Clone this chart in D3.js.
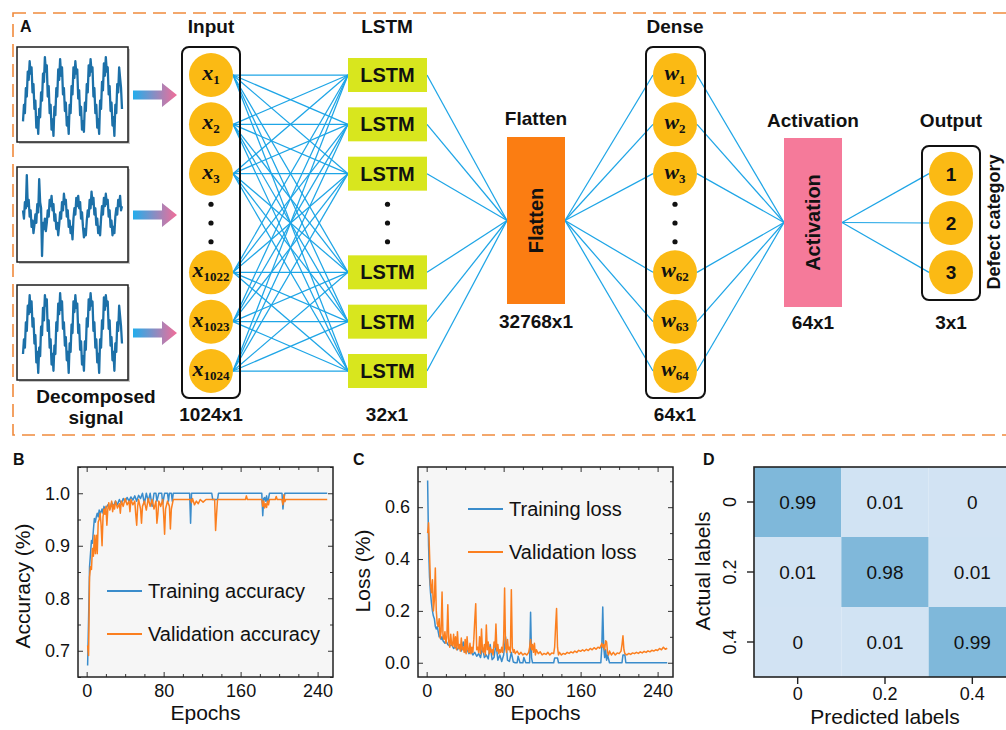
<!DOCTYPE html>
<html><head><meta charset="utf-8">
<script src="https://cdn.jsdelivr.net/npm/d3@7"></script>
<style>
body{margin:0;background:#fff;}
svg{display:block;font-family:"Liberation Sans",Arial,sans-serif;}
</style></head><body>
<svg id="fig" width="1006" height="730"></svg>
<script>
// ---------------- data ----------------
const inputNodes = [["x","1"],["x","2"],["x","3"],["x","1022"],["x","1023"],["x","1024"]];
const lstmNodes = ["LSTM","LSTM","LSTM","LSTM","LSTM","LSTM"];
const denseNodes = [["w","1"],["w","2"],["w","3"],["w","62"],["w","63"],["w","64"]];
const outputNodes = ["1","2","3"];
const layerTitles = ["Input","LSTM","Flatten","Dense","Activation","Output"];
const layerShapes = ["1024x1","32x1","32768x1","64x1","64x1","3x1"];

const signalA = [-0.6,-0.2,-0.4,0.2,0.0,0.6,0.4,0.85,0.55,0.7,0.1,0.3,-0.3,-0.1,-0.75,
 -0.5,-0.9,-0.3,-0.5,0.1,-0.1,0.55,0.35,0.95,0.6,0.75,0.0,0.25,-0.4,-0.2,
 -0.8,-0.55,-0.95,-0.25,-0.45,0.2,0.0,0.65,0.4,0.9,0.5,0.7,0.05,0.2,-0.35,
 -0.15,-0.7,-0.5,-0.9,-0.2,-0.4,0.25,0.05,0.7,0.45,0.85,0.55,0.65,-0.05,0.15,
 -0.45,-0.25,-0.8,-0.6,-0.85,-0.15,-0.35,0.3,0.1,0.75,0.5,0.9,0.6,0.7,0.0,
 0.2,-0.4,-0.2,-0.75,-0.55,-0.9,-0.1,-0.3,0.35,0.15,0.8,0.5,0.95,0.6,0.7,
 0.05,0.25,-0.35,-0.15,-0.7,-0.5,-0.95,-0.2,-0.4,0.3,0.1,0.7,0.45,0.2,-0.3];
const signalB = [0.1,-0.1,0.3,0.15,0.95,0.2,0.35,-0.05,0.1,-0.3,-0.15,-0.45,-0.25,0.0,-0.2,
 0.25,0.05,0.85,0.3,0.15,-1.0,-0.2,-0.35,-0.1,-0.4,-0.2,0.1,-0.05,0.35,0.2,
 0.45,0.1,0.25,-0.15,0.0,-0.35,-0.2,-0.5,-0.25,0.05,-0.1,0.3,0.1,0.5,0.25,
 0.35,-0.05,0.1,-0.3,-0.15,-0.45,-0.3,-0.6,-0.1,0.15,0.0,0.4,0.2,0.45,0.15,
 0.3,-0.1,0.05,-0.3,-0.55,-0.35,-0.5,-0.15,0.1,-0.05,0.35,0.15,0.55,0.25,0.4,
 0.0,0.15,-0.25,-0.1,-0.45,-0.3,-0.5,-0.1,0.2,0.0,0.4,0.2,0.5,0.25,0.35,
 -0.05,0.1,-0.3,-0.15,-0.5,-0.3,-0.45,-0.05,0.15,0.0,0.35,0.2,0.45,0.1,0.2];
const signalC = [-0.5,-0.15,-0.35,0.25,0.05,0.65,0.45,0.9,0.5,0.75,0.15,0.35,-0.25,-0.05,-0.7,
 -0.45,-0.95,-0.35,-0.55,0.15,-0.05,0.6,0.3,0.9,0.65,0.8,0.05,0.3,-0.35,-0.15,
 -0.75,-0.5,-0.9,-0.3,-0.5,0.25,0.05,0.7,0.45,0.95,0.55,0.75,0.1,0.25,-0.3,
 -0.1,-0.65,-0.45,-0.95,-0.25,-0.45,0.2,0.0,0.75,0.5,0.9,0.6,0.7,0.0,0.2,
 -0.4,-0.2,-0.75,-0.55,-0.9,-0.2,-0.4,0.35,0.15,0.8,0.55,0.95,0.65,0.75,0.05,
 0.25,-0.35,-0.15,-0.7,-0.5,-0.95,-0.15,-0.35,0.3,0.1,0.85,0.55,0.9,0.65,0.75,
 0.1,0.3,-0.3,-0.1,-0.65,-0.45,-0.9,-0.25,-0.45,0.25,0.05,0.65,0.4,0.15,-0.25];

const trainAcc = [[1,0.672],[2,0.76],[3,0.86],[4,0.885],[5,0.91],[6,0.905],[7,0.93],[8,0.952],[9,0.945],[10,0.955],
 [11,0.962],[12,0.955],[13,0.968],[14,0.96],[15,0.965],[16,0.97],[17,0.962],[18,0.975],[19,0.968],[20,0.972],
 [22,0.978],[24,0.97],[26,0.982],[28,0.975],[30,0.985],[32,0.978],[34,0.988],[36,0.98],[38,0.99],[40,0.984],
 [42,0.992],[44,0.985],[46,0.993],[48,0.987],[50,0.995],[52,0.985],[54,0.996],[56,0.99],[58,1.0],[60,0.98],
 [62,1.0],[64,0.985],[66,1.0],[68,0.975],[70,1.0],[72,1.0],[73,0.985],[75,1.0],[78,1.0],[79,0.98],[81,1.0],
 [84,1.0],[85,0.985],[86,1.0],[88,1.0],[89,0.985],[90,1.0],[107,1.0],[108,0.943],[109,1.0],[130,1.0],[131,0.988],
 [136,0.988],[137,1.0],[182,1.0],[183,0.957],[184,0.99],[185,0.992],[186,0.985],[187,0.995],[188,0.98],[190,1.0],
 [203,1.0],[204,0.97],[205,0.99],[206,1.0],[250,1.0]];
const valAcc = [[1,0.71],[2,0.691],[3,0.84],[4,0.86],[5,0.855],[6,0.895],[7,0.88],[8,0.92],[9,0.885],[10,0.92],
 [11,0.885],[12,0.945],[13,0.95],[14,0.962],[15,0.94],[16,0.90],[17,0.955],[18,0.97],[19,0.96],[20,0.975],
 [21,0.939],[22,0.97],[23,0.982],[24,0.968],[25,0.975],[26,0.985],[27,0.965],[28,0.978],[29,0.97],[30,0.985],
 [32,0.972],[34,0.98],[35,0.962],[36,0.985],[38,0.975],[40,0.99],[42,0.978],[44,0.985],[45,0.965],[46,0.988],
 [48,0.978],[50,0.985],[51,0.96],[52,0.939],[53,0.975],[54,0.988],[56,0.97],[57,0.943],[58,0.975],[60,0.985],
 [62,0.968],[64,0.99],[66,0.975],[68,0.988],[70,0.97],[72,0.985],[73,0.943],[74,0.96],[75,0.985],[77,0.975],
 [79,0.988],[80,0.96],[81,0.922],[82,0.97],[84,0.985],[86,0.975],[87,0.932],[88,0.97],[90,0.988],[108,0.988],
 [109,0.982],[110,0.99],[112,0.978],[114,0.985],[116,0.98],[118,0.988],[121,0.983],[124,0.988],[133,0.988],
 [134,0.929],[135,0.96],[136,0.988],[165,0.988],[166,0.995],[167,0.988],[182,0.988],[183,0.975],[184,0.985],
 [185,0.972],[186,0.98],[187,0.973],[188,0.985],[189,0.978],[190,0.988],[196,0.988],[197,0.994],[198,0.988],
 [203,0.988],[204,0.978],[205,0.997],[206,0.984],[207,0.988],[250,0.988]];

const trainLoss = [[1,0.703],[2,0.45],[3,0.33],[4,0.27],[5,0.23],[6,0.2],[7,0.18],[8,0.17],[9,0.14],[10,0.13],
 [11,0.14],[12,0.12],[13,0.1],[14,0.105],[15,0.09],[16,0.1],[17,0.085],[18,0.08],[19,0.075],[20,0.085],
 [22,0.07],[24,0.065],[26,0.07],[28,0.055],[30,0.06],[32,0.05],[34,0.065],[36,0.045],[38,0.08],[40,0.04],
 [42,0.05],[44,0.035],[46,0.045],[48,0.03],[50,0.04],[52,0.025],[54,0.035],[56,0.02],[58,0.06],[60,0.02],
 [62,0.03],[64,0.015],[66,0.07],[68,0.012],[70,0.02],[72,0.075],[74,0.01],[76,0.03],[78,0.005],[80,0.03],
 [82,0.1],[84,0.01],[86,0.005],[88,0.04],[90,0.003],[92,0.0],[94,0.0],[95,0.025],[97,0.0],[100,0.0],[101,0.02],
 [103,0.0],[107,0.0],[108,0.195],[109,0.02],[110,0.0],[132,0.0],[133,0.018],[136,0.018],[137,0.0],[181,0.0],
 [182,0.06],[183,0.215],[184,0.06],[185,0.02],[186,0.05],[187,0.01],[188,0.03],[190,0.0],[203,0.0],[204,0.03],
 [206,0.03],[207,0.0],[250,0.0]];
const valLoss = [[1,0.5],[2,0.54],[3,0.42],[4,0.3],[5,0.27],[6,0.32],[7,0.2],[8,0.24],[9,0.365],[10,0.2],
 [11,0.15],[12,0.14],[13,0.17],[14,0.095],[15,0.12],[16,0.273],[17,0.1],[18,0.09],[19,0.12],[20,0.075],
 [21,0.1],[22,0.224],[23,0.08],[24,0.06],[25,0.11],[26,0.07],[27,0.065],[28,0.11],[29,0.06],[30,0.1],
 [31,0.05],[32,0.12],[33,0.055],[34,0.07],[35,0.045],[36,0.095],[37,0.05],[38,0.06],[39,0.04],[40,0.09],
 [41,0.035],[42,0.1],[43,0.05],[44,0.04],[45,0.075],[46,0.035],[47,0.06],[48,0.04],[49,0.09],[50,0.165],
 [51,0.228],[52,0.05],[53,0.06],[54,0.04],[55,0.1],[56,0.035],[57,0.13],[58,0.05],[59,0.04],[60,0.07],
 [61,0.03],[62,0.146],[63,0.05],[64,0.08],[65,0.035],[66,0.06],[67,0.04],[68,0.05],[69,0.03],[70,0.08],
 [71,0.06],[72,0.149],[73,0.045],[74,0.07],[75,0.035],[76,0.05],[77,0.04],[78,0.06],[79,0.04],[80,0.09],
 [81,0.288],[82,0.06],[83,0.04],[84,0.09],[85,0.05],[86,0.06],[87,0.04],[88,0.282],[89,0.06],[90,0.04],
 [91,0.05],[92,0.035],[94,0.045],[96,0.032],[98,0.04],[100,0.03],[102,0.036],[104,0.03],[106,0.04],[107,0.06],
 [108,0.09],[109,0.05],[110,0.07],[111,0.04],[112,0.075],[113,0.03],[114,0.05],[116,0.035],[118,0.042],[120,0.03],
 [122,0.036],[124,0.032],[126,0.04],[128,0.03],[130,0.038],[132,0.035],[133,0.06],[134,0.14],[135,0.209],[136,0.06],
 [137,0.03],[138,0.04],[140,0.03],[142,0.036],[144,0.033],[146,0.04],[148,0.036],[150,0.042],[152,0.038],[154,0.045],
 [156,0.04],[158,0.048],[160,0.044],[162,0.05],[164,0.045],[166,0.052],[168,0.047],[170,0.055],[172,0.05],[174,0.058],
 [176,0.052],[178,0.06],[180,0.056],[181,0.065],[182,0.075],[183,0.06],[184,0.07],[185,0.05],[186,0.085],[187,0.08],
 [188,0.04],[189,0.03],[190,0.045],[192,0.03],[194,0.04],[196,0.03],[198,0.038],[200,0.035],[202,0.045],[203,0.07],
 [204,0.104],[205,0.05],[206,0.035],[208,0.03],[210,0.036],[212,0.032],[214,0.038],[216,0.035],[218,0.04],[220,0.036],
 [222,0.042],[224,0.038],[226,0.044],[228,0.04],[230,0.046],[232,0.042],[234,0.048],[236,0.045],[238,0.05],[240,0.047],
 [242,0.055],[244,0.05],[246,0.06],[248,0.052],[250,0.056]];

const epochTicks = [0, 80, 160, 240];
const epochMinor = [20, 40, 60, 100, 120, 140, 180, 200, 220];
const accTicks = [0.7, 0.8, 0.9, 1.0];
const accMinor = [0.65, 0.75, 0.85, 0.95, 1.05];
const lossTicks = [0.0, 0.2, 0.4, 0.6];
const lossMinor = [0.1, 0.3, 0.5, 0.7];

const confLabels = ["0", "0.2", "0.4"];
const confusion = [[0.99, 0.01, 0], [0.01, 0.98, 0.01], [0, 0.01, 0.99]];

// ---------------- drawing ----------------
const svg = d3.select("#fig");
const ink = "#111";
const linkColor = "#1ea5e6";
const nodeFill = "#fbba14";

const defs = svg.append("defs");
const grad = defs.append("linearGradient").attr("id", "arrowGrad");
grad.append("stop").attr("offset", "0%").attr("stop-color", "#22adec");
grad.append("stop").attr("offset", "100%").attr("stop-color", "#f36c98");

// dashed frame of panel A
svg.append("rect").attr("x", 13).attr("y", 13).attr("width", 1020).attr("height", 422)
  .attr("fill", "none").attr("stroke", "#f08a3c").attr("stroke-width", 1.6)
  .attr("stroke-dasharray", "13,7");

function panelLetter(t, x, y) {
  svg.append("text").attr("x", x).attr("y", y).text(t)
    .attr("font-weight", "bold").attr("font-size", 16).attr("fill", ink);
}
panelLetter("A", 20, 32);
panelLetter("B", 13, 465);
panelLetter("C", 353, 465);
panelLetter("D", 703, 465);

// ---- decomposed signal thumbnails ----
const thumbs = [
  { sig: signalA, y0: 47, lo: 138, hi: 55 },
  { sig: signalB, y0: 167, lo: 256, hi: 173 },
  { sig: signalC, y0: 285, lo: 375, hi: 291 }
];
thumbs.forEach(t => {
  const g = svg.append("g");
  g.append("rect").attr("x", 19).attr("y", t.y0 + 2).attr("width", 111).attr("height", 95).attr("fill", "#c9c9c9");
  g.append("rect").attr("x", 17).attr("y", t.y0).attr("width", 111).attr("height", 95)
    .attr("fill", "#fff").attr("stroke", "#1d1d1d").attr("stroke-width", 1.5);
  const sx = d3.scaleLinear().domain([0, t.sig.length - 1]).range([23, 122]);
  const sy = d3.scaleLinear().domain([-1, 1]).range([t.lo, t.hi]);
  g.append("path").attr("d", d3.line().x((d, i) => sx(i)).y(d => sy(d))(t.sig))
    .attr("fill", "none").attr("stroke", "#1c70a8").attr("stroke-width", 2.3).attr("stroke-linejoin", "round");
  // gradient arrow
  const cy = t.y0 + 48;
  g.append("path")
    .attr("d", `M133,${cy - 4.5}H162V${cy - 12}L177,${cy}L162,${cy + 12}V${cy + 4.5}H133Z`)
    .attr("fill", "url(#arrowGrad)");
});
svg.append("text").attr("x", 96).attr("y", 403).attr("text-anchor", "middle")
  .attr("font-weight", "bold").attr("font-size", 19).attr("fill", ink).text("Decomposed");
svg.append("text").attr("x", 96).attr("y", 424).attr("text-anchor", "middle")
  .attr("font-weight", "bold").attr("font-size", 19).attr("fill", ink).text("signal");

// ---- network layout ----
const slotY = d3.scaleLinear().domain([0, 6]).range([75, 371]);
const nodeSlots = [0, 1, 2, 4, 5, 6];
const dotSlots = [2.62, 3, 3.38];
const R = 22;
const col = { input: 211, lstmL: 348, lstmR: 427, flatL: 507, flatR: 565, dense: 675, actL: 784, actR: 842, out: 951 };
const flat = { y: 137, h: 167 };
const act = { y: 138, h: 169 };
const flatCy = flat.y + flat.h / 2, actCy = act.y + act.h / 2;
const outSlots = [2, 3, 4];

const links = svg.append("g").attr("stroke", linkColor).attr("stroke-width", 1.25);
inputNodes.forEach((a, i) => lstmNodes.forEach((b, j) => {
  links.append("line").attr("x1", col.input + R).attr("y1", slotY(nodeSlots[i]))
    .attr("x2", col.lstmL).attr("y2", slotY(nodeSlots[j]));
}));
lstmNodes.forEach((b, j) => links.append("line").attr("x1", col.lstmR).attr("y1", slotY(nodeSlots[j]))
  .attr("x2", col.flatL).attr("y2", flatCy));
denseNodes.forEach((w, k) => {
  links.append("line").attr("x1", col.flatR).attr("y1", flatCy).attr("x2", col.dense - R).attr("y2", slotY(nodeSlots[k]));
  links.append("line").attr("x1", col.dense + R).attr("y1", slotY(nodeSlots[k])).attr("x2", col.actL).attr("y2", actCy);
});
outputNodes.forEach((o, m) => links.append("line").attr("x1", col.actR).attr("y1", actCy)
  .attr("x2", col.out - R).attr("y2", slotY(outSlots[m])));

// layer frames
function frame(x, y, w, h) {
  svg.append("rect").attr("x", x).attr("y", y).attr("width", w).attr("height", h).attr("rx", 7)
    .attr("fill", "none").attr("stroke", ink).attr("stroke-width", 2);
}
frame(182, 47, 58, 351);
frame(646, 47, 59, 351);
frame(922, 146, 58, 154);

function symbolNode(cx, cy, sym) {
  svg.append("circle").attr("cx", cx).attr("cy", cy).attr("r", R).attr("fill", nodeFill);
  const t = svg.append("text").attr("x", cx).attr("y", cy + 5).attr("text-anchor", "middle")
    .attr("font-family", "'Liberation Serif','Times New Roman',serif").attr("font-style", "italic")
    .attr("font-weight", "bold").attr("fill", ink);
  t.append("tspan").attr("font-size", 22).text(sym[0]);
  t.append("tspan").attr("font-size", 13).attr("font-style", "normal").attr("dy", 4).text(sym[1]);
}
inputNodes.forEach((s, i) => symbolNode(col.input, slotY(nodeSlots[i]), s));
denseNodes.forEach((s, i) => symbolNode(col.dense, slotY(nodeSlots[i]), s));
outputNodes.forEach((s, i) => {
  svg.append("circle").attr("cx", col.out).attr("cy", slotY(outSlots[i])).attr("r", R).attr("fill", nodeFill);
  svg.append("text").attr("x", col.out).attr("y", slotY(outSlots[i]) + 7).attr("text-anchor", "middle")
    .attr("font-weight", "bold").attr("font-size", 19).attr("fill", ink).text(s);
});
lstmNodes.forEach((s, j) => {
  const cy = slotY(nodeSlots[j]);
  svg.append("rect").attr("x", col.lstmL).attr("y", cy - 17).attr("width", col.lstmR - col.lstmL).attr("height", 34)
    .attr("fill", "#d8e61e");
  svg.append("text").attr("x", (col.lstmL + col.lstmR) / 2).attr("y", cy + 7).attr("text-anchor", "middle")
    .attr("font-weight", "bold").attr("font-size", 20).attr("fill", ink).text(s);
});
[col.input, (col.lstmL + col.lstmR) / 2, col.dense].forEach(cx => dotSlots.forEach(s =>
  svg.append("circle").attr("cx", cx).attr("cy", slotY(s)).attr("r", 2.6).attr("fill", ink)));

// flatten and activation blocks
svg.append("rect").attr("x", col.flatL).attr("y", flat.y).attr("width", col.flatR - col.flatL).attr("height", flat.h).attr("fill", "#fb7d12");
svg.append("rect").attr("x", col.actL).attr("y", act.y).attr("width", col.actR - col.actL).attr("height", act.h).attr("fill", "#f57a9a");
function vText(t, x, y, size) {
  svg.append("text").attr("transform", `translate(${x},${y}) rotate(-90)`).attr("text-anchor", "middle")
    .attr("font-weight", "bold").attr("font-size", size).attr("fill", ink).text(t);
}
vText("Flatten", (col.flatL + col.flatR) / 2 + 7, flatCy, 20);
vText("Activation", (col.actL + col.actR) / 2 + 7, actCy, 20);
vText("Defect category", 1000, 222, 18);

// layer titles and shapes
const titlePos = [[211, 33], [387, 33], [536, 125], [675, 33], [813, 127], [951, 127]];
const shapePos = [[211, 421], [387, 421], [536, 328], [675, 421], [813, 329], [951, 329]];
layerTitles.forEach((t, i) => svg.append("text").attr("x", titlePos[i][0]).attr("y", titlePos[i][1])
  .attr("text-anchor", "middle").attr("font-weight", "bold").attr("font-size", 19).attr("fill", ink).text(t));
layerShapes.forEach((t, i) => svg.append("text").attr("x", shapePos[i][0]).attr("y", shapePos[i][1])
  .attr("text-anchor", "middle").attr("font-weight", "bold").attr("font-size", 19).attr("fill", ink).text(t));

// ---------------- training curves ----------------
const blue = "#3a8ccb", orange = "#fb7f1f";
function curvePanel(o) {
  const x = d3.scaleLinear().domain([-9, 256]).range([o.x0, o.x0 + 255]);
  const y = d3.scaleLinear().domain(o.yDomain).range([677, 467]);
  const g = svg.append("g");
  g.append("rect").attr("x", o.x0).attr("y", 467).attr("width", 255).attr("height", 210).attr("fill", "#f6f6f6");
  const clipId = "clip" + o.x0;
  defs.append("clipPath").attr("id", clipId).append("rect").attr("x", o.x0).attr("y", 467).attr("width", 255).attr("height", 210);
  const line = d3.line().x(d => x(d[0])).y(d => y(d[1]));
  const cg = g.append("g").attr("clip-path", `url(#${clipId})`).attr("fill", "none").attr("stroke-width", 1.5).attr("stroke-linejoin", "round");
  cg.append("path").attr("d", line(o.s1)).attr("stroke", blue);
  cg.append("path").attr("d", line(o.s2)).attr("stroke", orange);

  const style = a => a.call(s => s.select(".domain").remove())
    .call(s => s.selectAll("line").attr("stroke", "#333"))
    .call(s => s.selectAll("text").attr("font-size", 18).attr("fill", ink).attr("font-family", "'Liberation Sans',Arial,sans-serif"));
  g.append("g").attr("transform", `translate(${o.x0},0)`).call(d3.axisLeft(y).tickValues(o.yTicks).tickFormat(d3.format(".1f")).tickSize(-5).tickPadding(8)).call(style);
  g.append("g").attr("transform", `translate(${o.x0},0)`).call(d3.axisLeft(y).tickValues(o.yMinor).tickFormat("").tickSize(-3)).call(style);
  g.append("g").attr("transform", `translate(${o.x0 + 255},0)`).call(d3.axisRight(y).tickValues(o.yTicks).tickFormat("").tickSize(-5)).call(style);
  g.append("g").attr("transform", `translate(${o.x0 + 255},0)`).call(d3.axisRight(y).tickValues(o.yMinor).tickFormat("").tickSize(-3)).call(style);
  g.append("g").attr("transform", "translate(0,677)").call(d3.axisBottom(x).tickValues(epochTicks).tickFormat(d3.format("d")).tickSize(-5).tickPadding(20)).call(style)
    .call(s => s.selectAll("text").attr("dy", null));
  g.append("g").attr("transform", "translate(0,677)").call(d3.axisBottom(x).tickValues(epochMinor).tickFormat("").tickSize(-3)).call(style);
  g.append("g").attr("transform", "translate(0,467)").call(d3.axisTop(x).tickValues(epochTicks).tickFormat("").tickSize(-5)).call(style);
  g.append("g").attr("transform", "translate(0,467)").call(d3.axisTop(x).tickValues(epochMinor).tickFormat("").tickSize(-3)).call(style);
  g.append("rect").attr("x", o.x0).attr("y", 467).attr("width", 255).attr("height", 210)
    .attr("fill", "none").attr("stroke", "#222").attr("stroke-width", 1.5);

  g.append("text").attr("x", o.x0 + 127.5).attr("y", 720).attr("text-anchor", "middle")
    .attr("font-size", 21).attr("fill", ink).text("Epochs");
  g.append("text").attr("transform", `translate(${o.titleX},${o.titleY}) rotate(-90)`).attr("text-anchor", "middle")
    .attr("font-size", 21).attr("fill", ink).text(o.title);
  o.legend.forEach((l, i) => {
    const ly = o.legY + i * 43;
    g.append("line").attr("x1", o.legX).attr("x2", o.legX + 35).attr("y1", ly).attr("y2", ly)
      .attr("stroke", i === 0 ? blue : orange).attr("stroke-width", 2);
    g.append("text").attr("x", o.legX + 41).attr("y", ly + 7).attr("font-size", 20).attr("fill", ink).text(l);
  });
}
curvePanel({ x0: 78, yDomain: [0.65, 1.05], yTicks: accTicks, yMinor: accMinor, s1: trainAcc, s2: valAcc,
  title: "Accuracy (%)", titleX: 30, titleY: 586, legX: 107, legY: 591,
  legend: ["Training accuracy", "Validation accuracy"] });
curvePanel({ x0: 418, yDomain: [-0.055, 0.755], yTicks: lossTicks, yMinor: lossMinor, s1: trainLoss, s2: valLoss,
  title: "Loss (%)", titleX: 370, titleY: 571, legX: 468, legY: 509,
  legend: ["Training loss", "Validation loss"] });

// ---------------- confusion matrix ----------------
const cx = d3.scaleBand().domain(confLabels).range([754, 1016]);
const cy = d3.scaleBand().domain(confLabels).range([467, 677]);
const cColor = d3.scaleLinear().domain([0, 0.99]).range(["#d2e3f3", "#7fb8da"]);
const cm = svg.append("g");
confusion.forEach((row, r) => row.forEach((v, c) => {
  cm.append("rect").attr("x", cx(confLabels[c])).attr("y", cy(confLabels[r]))
    .attr("width", cx.bandwidth()).attr("height", cy.bandwidth()).attr("fill", cColor(v));
  cm.append("text").attr("x", cx(confLabels[c]) + cx.bandwidth() / 2).attr("y", cy(confLabels[r]) + cy.bandwidth() / 2 + 7)
    .attr("text-anchor", "middle").attr("font-size", 19).attr("fill", ink).text(v);
}));
cm.append("rect").attr("x", 754).attr("y", 467).attr("width", 262).attr("height", 210)
  .attr("fill", "none").attr("stroke", "#222").attr("stroke-width", 1.6);
const cmStyle = a => a.call(s => s.select(".domain").remove())
  .call(s => s.selectAll("line").attr("stroke", "#222").attr("stroke-width", 1.4))
  .call(s => s.selectAll("text").attr("font-size", 18).attr("fill", ink).attr("font-family", "'Liberation Sans',Arial,sans-serif"));
cm.append("g").attr("transform", "translate(754,0)").call(d3.axisLeft(cy).tickSize(7)).call(cmStyle)
  .call(s => s.selectAll("text").attr("x", null).attr("dy", null).attr("transform", "rotate(-90)")
    .attr("y", -18).attr("text-anchor", "middle"));
cm.append("g").attr("transform", "translate(0,677)").call(d3.axisBottom(cx).tickSize(7).tickPadding(16)).call(cmStyle)
  .call(s => s.selectAll("text").attr("dy", null));
cm.append("text").attr("x", 885).attr("y", 724).attr("text-anchor", "middle").attr("font-size", 21).attr("fill", ink).text("Predicted labels");
cm.append("text").attr("transform", "translate(710,571) rotate(-90)").attr("text-anchor", "middle")
  .attr("font-size", 21).attr("fill", ink).text("Actual labels");
</script>
</body></html>
